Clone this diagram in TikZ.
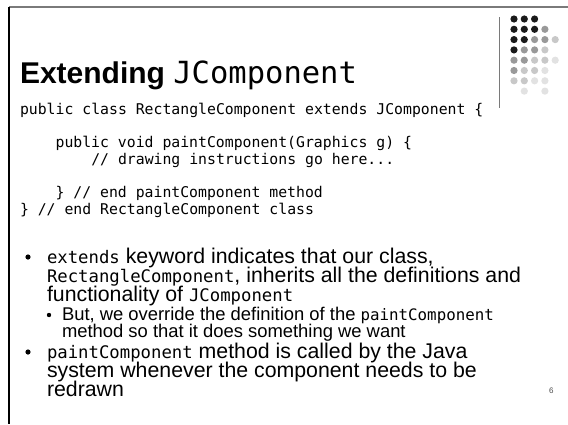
\documentclass[tikz,border=0pt]{standalone}
\usepackage{fontspec}
\setmainfont{Liberation Sans}
\newfontfamily\codefont{DejaVu Sans Mono}
\newcommand\titlemono[1]{{\codefont\fontsize{30.5}{32}\selectfont #1}}
\newcommand\kwbig[1]{{\codefont\fontsize{17.3}{19}\selectfont #1}}
\newcommand\kwsmall[1]{{\codefont\fontsize{15.8}{17}\selectfont #1}}
\definecolor{dotA}{HTML}{1A1A1A}
\definecolor{dotB}{HTML}{999999}
\definecolor{dotC}{HTML}{C8C8C8}
\definecolor{dotD}{HTML}{E2E2E2}
\definecolor{rulegray}{HTML}{7A7A7A}
\tikzset{
  txt/.style={anchor=base west, inner sep=0pt, outer sep=0pt},
  codeline/.style={txt, font=\codefont\fontsize{14.8}{16}\selectfont},
  mainline/.style={txt, font=\fontsize{21.3}{22}\selectfont},
  subline/.style={txt, font=\fontsize{18.4}{19}\selectfont},
}
\begin{document}
\begin{tikzpicture}[x=1pt,y=-1pt]
\useasboundingbox (0,0) rectangle (568,424);
\fill[white] (0,0) rectangle (568,424);

% slide frame
\draw[rulegray, line width=2pt] (9,7) -- (568,7);
\draw[black, line width=1.3pt] (9,7) -- (9,424);

% decorative dot grid and its separator
\draw[rulegray, line width=1pt] (499,17) -- (499,108);
\foreach \c/\r/\col in {
  1/1/dotA,2/1/dotA,3/1/dotA,
  1/2/dotA,2/2/dotA,3/2/dotA,4/2/dotB,
  1/3/dotA,2/3/dotA,3/3/dotB,4/3/dotB,5/3/dotC,
  1/4/dotA,2/4/dotB,3/4/dotB,4/4/dotC,
  1/5/dotB,2/5/dotB,3/5/dotC,4/5/dotC,5/5/dotD,
  1/6/dotB,2/6/dotC,3/6/dotC,4/6/dotD,
  1/7/dotC,2/7/dotC,3/7/dotD,4/7/dotD,
  2/8/dotD,4/8/dotD}
  \fill[\col] ({503.7+10.3*\c},{8.7+10.3*\r}) circle (3.6);

% title
\node[txt, font=\fontsize{30}{32}\selectfont] (title) at (20,83)
  {\textbf{Extending} \titlemono{JComponent}};

% code listing (4-column indents)
\node[codeline] (code1) at (20,114)     {public class RectangleComponent extends JComponent \{};
\node[codeline] (code2) at (55.6,147.5) {public void paintComponent(Graphics g) \{};
\node[codeline] (code3) at (91.3,164)   {// drawing instructions go here...};
\node[codeline] (code4) at (55.6,197.5) {\} // end paintComponent method};
\node[codeline] (code5) at (20,214)     {\} // end RectangleComponent class};

% bullet list
\fill (28,257) circle (2.6);
\node[mainline] (b1a) at (47,263) {\kwbig{extends} keyword indicates that our class,};
\node[mainline] (b1b) at (47,282) {\kwbig{RectangleComponent}, inherits all the definitions and};
\node[mainline] (b1c) at (47,301) {functionality of \kwbig{JComponent}};

\fill (49,315) circle (2.2);
\node[subline] (s1a) at (62,320) {But, we override the definition of the \kwsmall{paintComponent}};
\node[subline] (s1b) at (62,337) {method so that it does something we want};

\fill (28,352) circle (2.6);
\node[mainline] (b2a) at (47,358) {\kwbig{paintComponent} method is called by the Java};
\node[mainline] (b2b) at (47,377) {system whenever the component needs to be};
\node[mainline] (b2c) at (47,396) {redrawn};

% page number
\node[txt, font=\fontsize{8}{9}\selectfont, text=black!70] (page) at (549,393) {6};
\end{tikzpicture}
\end{document}
